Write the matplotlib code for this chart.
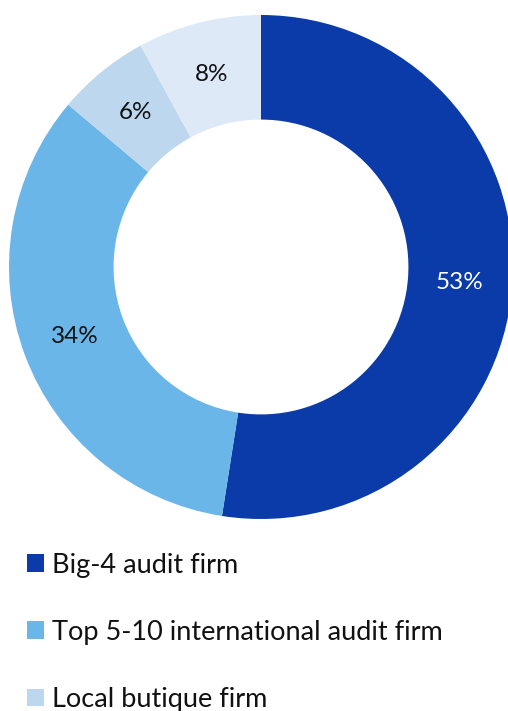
import matplotlib
matplotlib.use('Agg')
import matplotlib.pyplot as plt

# Доли типов аудиторских фирм
categories = ['Big-4 audit firm', 'Top 5-10 international audit firm',
              'Local butique firm', 'Other']
shares = [53, 34, 6, 8]
colors = ['#0a3ba9', '#6bb6e8', '#bdd7ee', '#dde9f6']
label_colors = ['white', '#111111', '#111111', '#111111']

plt.rcParams['font.family'] = ['Lato', 'DejaVu Sans']

fig = plt.figure(figsize=(5.08, 7.11), dpi=100)
W, H = 508, 711
cx, cy, r = 261, 267, 252
ax = fig.add_axes([(cx - r) / W, 1 - (cy + r) / H, 2 * r / W, 2 * r / H])

wedges, texts = ax.pie(shares, colors=colors, startangle=90, counterclock=False,
                       radius=1, labels=[f'{s}%' for s in shares],
                       labeldistance=0.79,
                       wedgeprops=dict(width=0.415, linewidth=0),
                       textprops=dict(fontsize=17.5))
for t, c in zip(texts, label_colors):
    t.set_color(c)
    t.set_ha('center')
    t.set_va('center')
ax.set_xlim(-1, 1)
ax.set_ylim(-1, 1)
ax.set_aspect('equal')
ax.axis('off')

# в легенде только первые три категории
fig.legend(wedges[:3], categories[:3], loc='upper left',
           bbox_to_anchor=(27 / W, 1 - 552.5 / H), frameon=False,
           fontsize=19.5, handlelength=0.63, handleheight=0.63,
           handletextpad=0.3, labelspacing=1.56, borderpad=0,
           borderaxespad=0, labelcolor='#111111')

fig.savefig('out.png', dpi=100)
